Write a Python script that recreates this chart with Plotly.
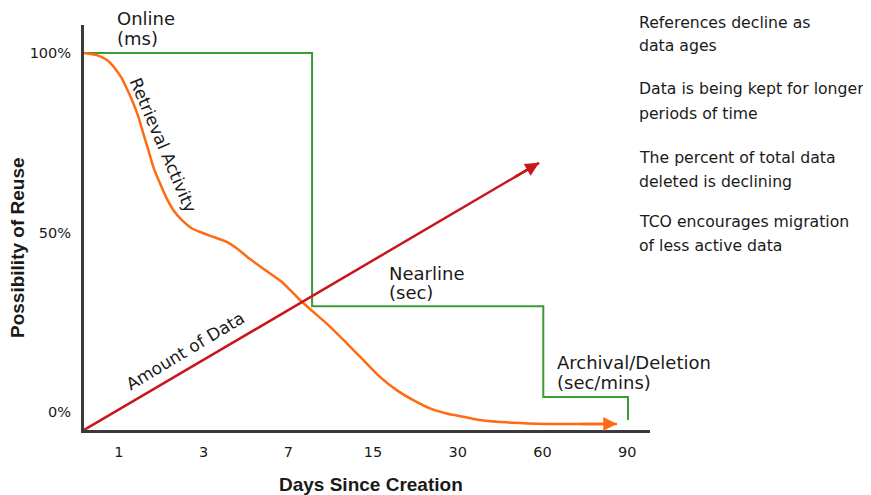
import plotly.graph_objects as go

# ---------------- data ----------------
day_labels = ["1", "3", "7", "15", "30", "60", "90"]
day_pos = [1, 2, 3, 4, 5, 6, 7]
y_ticks = [0, 50, 100]
y_ticktext = ["0%", "50%", "100%"]

# storage tier step (x in day-index units, y in %)
tier_x = [0.587, 3.28, 6.01, 7.01]
tier_y = [100, 29.5, 4.2, -2.2]

# retrieval activity curve
retr_x = [0.587, 0.737, 0.855, 0.953, 1.032, 1.110, 1.169, 1.228, 1.287, 1.346,
          1.405, 1.484, 1.563, 1.641, 1.740, 1.858, 1.995, 2.113, 2.272, 2.390,
          2.547, 2.724, 2.921, 3.137, 3.294, 3.491, 3.688, 3.884, 4.081, 4.279,
          4.475, 4.672, 4.869, 5.065, 5.262, 5.655, 6.049, 6.443, 6.880]
retr_y = [100, 99.4, 98.1, 95.7, 93.0, 89.2, 86.0, 82.3, 77.6, 73.0,
          68.3, 63.7, 59.5, 56.3, 53.5, 51.2, 49.8, 48.8, 47.4, 45.6,
          42.6, 39.6, 36.3, 31.2, 27.9, 23.8, 19.2, 14.5, 9.8, 6.1,
          3.3, 1.0, -0.4, -1.3, -2.2, -3.0, -3.3, -3.3, -3.3]

# amount of data line
amount_x = [0.587, 5.96]
amount_y = [-5.0, 69.4]

tier_labels = [["Online", "(ms)"], ["Nearline", "(sec)"], ["Archival/Deletion", "(sec/mins)"]]
notes = [["References decline as", "data ages"],
         ["Data is being kept for longer", "periods of time"],
         ["The percent of total data", "deleted is declining"],
         ["TCO encourages migration", "of less active data"]]

# ---------------- styling / layout ----------------
GREEN = "#3b9b35"
ORANGE = "#ff6b12"
RED = "#c8161d"
AXIS = "#3a3a3a"
TXT = "#1a1a1a"
REG = "DejaVu Sans"
BOLD = "Liberation Sans"

OFF = 8  # page body margin
L, R, T, B = 84, 650, 25, 430        # plot area in reference pixels
W, H = 871 - OFF, 495 - OFF


def px(xp):
    return (xp - L) / (R - L)


def py(yp):
    return (B - yp) / (B - T)


fig = go.Figure()

fig.add_trace(go.Scatter(x=tier_x, y=tier_y, mode="lines", line_shape="hv",
                         line=dict(color=GREEN, width=2), hoverinfo="skip"))
fig.add_trace(go.Scatter(x=retr_x, y=retr_y, mode="lines", line_shape="spline",
                         line=dict(color=ORANGE, width=2.5, smoothing=0.6), hoverinfo="skip"))
fig.add_trace(go.Scatter(x=amount_x, y=amount_y, mode="lines",
                         line=dict(color=RED, width=2.5), hoverinfo="skip"))

ann = []
# arrow heads
slope = (amount_y[-1] - amount_y[0]) / (amount_x[-1] - amount_x[0])
ann.append(dict(x=amount_x[-1], y=amount_y[-1], ax=amount_x[-1] - 0.3, ay=amount_y[-1] - 0.3 * slope,
                xref="x", yref="y", axref="x", ayref="y", showarrow=True, text="",
                arrowhead=2, arrowsize=1.1, arrowwidth=2.5, arrowcolor=RED))
ann.append(dict(x=retr_x[-1], y=retr_y[-1], ax=retr_x[-2], ay=retr_y[-2],
                xref="x", yref="y", axref="x", ayref="y", showarrow=True, text="",
                arrowhead=2, arrowsize=1.1, arrowwidth=2.5, arrowcolor=ORANGE))

# tier labels (left x px, first line center y px)
label_pos = [(115, 18), (387, 273), (555, 362)]
for lines, (lx, ly) in zip(tier_labels, label_pos):
    for i, s in enumerate(lines):
        ann.append(dict(x=px(lx), y=py(ly + 20 * i), xref="paper", yref="paper",
                        text=s, showarrow=False, xanchor="left", yanchor="middle",
                        font=dict(family=REG, size=18, color=TXT)))

# notes on right
note_pos = [22, 89, 157, 222]
for lines, ny in zip(notes, note_pos):
    for i, s in enumerate(lines):
        ann.append(dict(x=px(637), y=py(ny + 24 * i), xref="paper", yref="paper",
                        text=s, showarrow=False, xanchor="left", yanchor="middle",
                        font=dict(family=REG, size=15.7, color=TXT)))

# rotated curve labels
ann.append(dict(x=px(163), y=py(145), xref="paper", yref="paper", text="Retrieval Activity",
                showarrow=False, textangle=67, xanchor="center", yanchor="middle",
                font=dict(family=REG, size=17, color=TXT)))
ann.append(dict(x=px(185), y=py(351), xref="paper", yref="paper", text="Amount of Data",
                showarrow=False, textangle=-31, xanchor="center", yanchor="middle",
                font=dict(family=REG, size=17, color=TXT)))

# axis titles
ann.append(dict(x=px(371), y=py(484), xref="paper", yref="paper", text="<b>Days Since Creation</b>",
                showarrow=False, xanchor="center", yanchor="middle",
                font=dict(family=BOLD, size=19, color=TXT)))
ann.append(dict(x=px(17), y=py(248), xref="paper", yref="paper", text="<b>Possibility of Reuse</b>",
                showarrow=False, textangle=-90, xanchor="center", yanchor="middle",
                font=dict(family=BOLD, size=19, color=TXT)))

fig.update_layout(
    width=W, height=H,
    margin=dict(l=L - OFF, r=871 - R, t=T - OFF, b=495 - B, autoexpand=False),
    paper_bgcolor="white", plot_bgcolor="white",
    showlegend=False,
    annotations=ann,
    xaxis=dict(range=[0.587, 7.27], tickvals=day_pos, ticktext=day_labels,
               showgrid=False, zeroline=False, showline=True, linecolor=AXIS, linewidth=3,
               ticks="", ticklabelstandoff=7,
               tickfont=dict(family=REG, size=14.5, color=TXT), fixedrange=True),
    yaxis=dict(range=[-5.0, 107.8], tickvals=y_ticks, ticktext=y_ticktext,
               showgrid=False, zeroline=False, showline=True, linecolor=AXIS, linewidth=3,
               ticks="", ticklabelstandoff=7,
               tickfont=dict(family=REG, size=14.5, color=TXT), fixedrange=True),
)

fig.write_html("out.html")
